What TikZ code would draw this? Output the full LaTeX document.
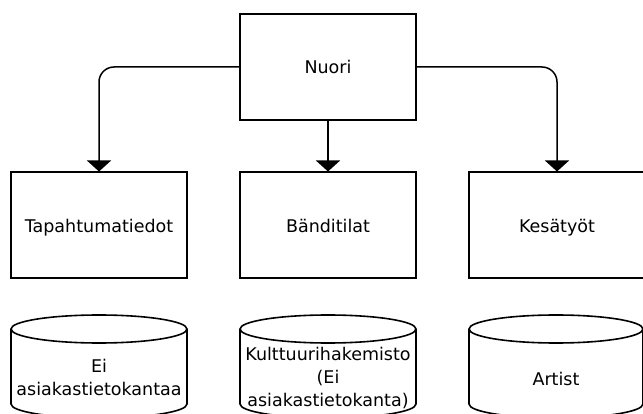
\documentclass[tikz,border=0pt]{standalone}
\usepackage{fontspec}
\setmainfont{DejaVu Sans}
\usetikzlibrary{arrows.meta}
\begin{document}
\begin{tikzpicture}[x=1pt,y=-1pt,
  box/.style={draw, line width=2pt, minimum width=176pt, minimum height=106pt,
    inner sep=0pt, text depth=0pt, font=\fontsize{17.5}{22}\selectfont},
  link/.style={line width=1.5pt, -{Triangle[width=24pt,length=11pt]},
    rounded corners=15pt},
  drum/.style={line width=1.6pt},
  caption/.style={align=center, inner sep=0pt, font=\fontsize{17.5}{23}\selectfont}]
\useasboundingbox (0,0) rectangle (643,414);
\clip (0,0) rectangle (643,414);

% top level and the three services
\node[box] (nuori) at (328,67) {Nuori};
\node[box] (tapahtumat) at (99,225.5) {Tapahtumatiedot};
\node[box] (banditilat) at (328,225.5) {Bänditilat};
\node[box] (kesatyot) at (557,225.5) {Kesätyöt};

\draw[link] (nuori.west) -| (tapahtumat.north);
\draw[link] (nuori.south) -- (banditilat.north);
\draw[link] (nuori.east) -| (kesatyot.north);

% databases drawn as cylinders: top ellipse, sides and lower front rim
\foreach \cx/\rx in {99/88, 328/88, 556/87}{
  \draw[drum] (\cx,329) ellipse [x radius=\rx pt, y radius=14pt];
  \draw[drum] (\cx-\rx,329) -- (\cx-\rx,404)
    arc[start angle=180, end angle=360, x radius=\rx pt, y radius=14pt]
    -- (\cx+\rx,329);
}

\node[caption] (db1) at (99,377) {Ei\\asiakastietokantaa};
\node[caption] (db2) at (328,378) {Kulttuurihakemisto\\(Ei\\asiakastietokanta)};
\node[caption] (db3) at (556,379) {Artist};
\end{tikzpicture}
\end{document}
